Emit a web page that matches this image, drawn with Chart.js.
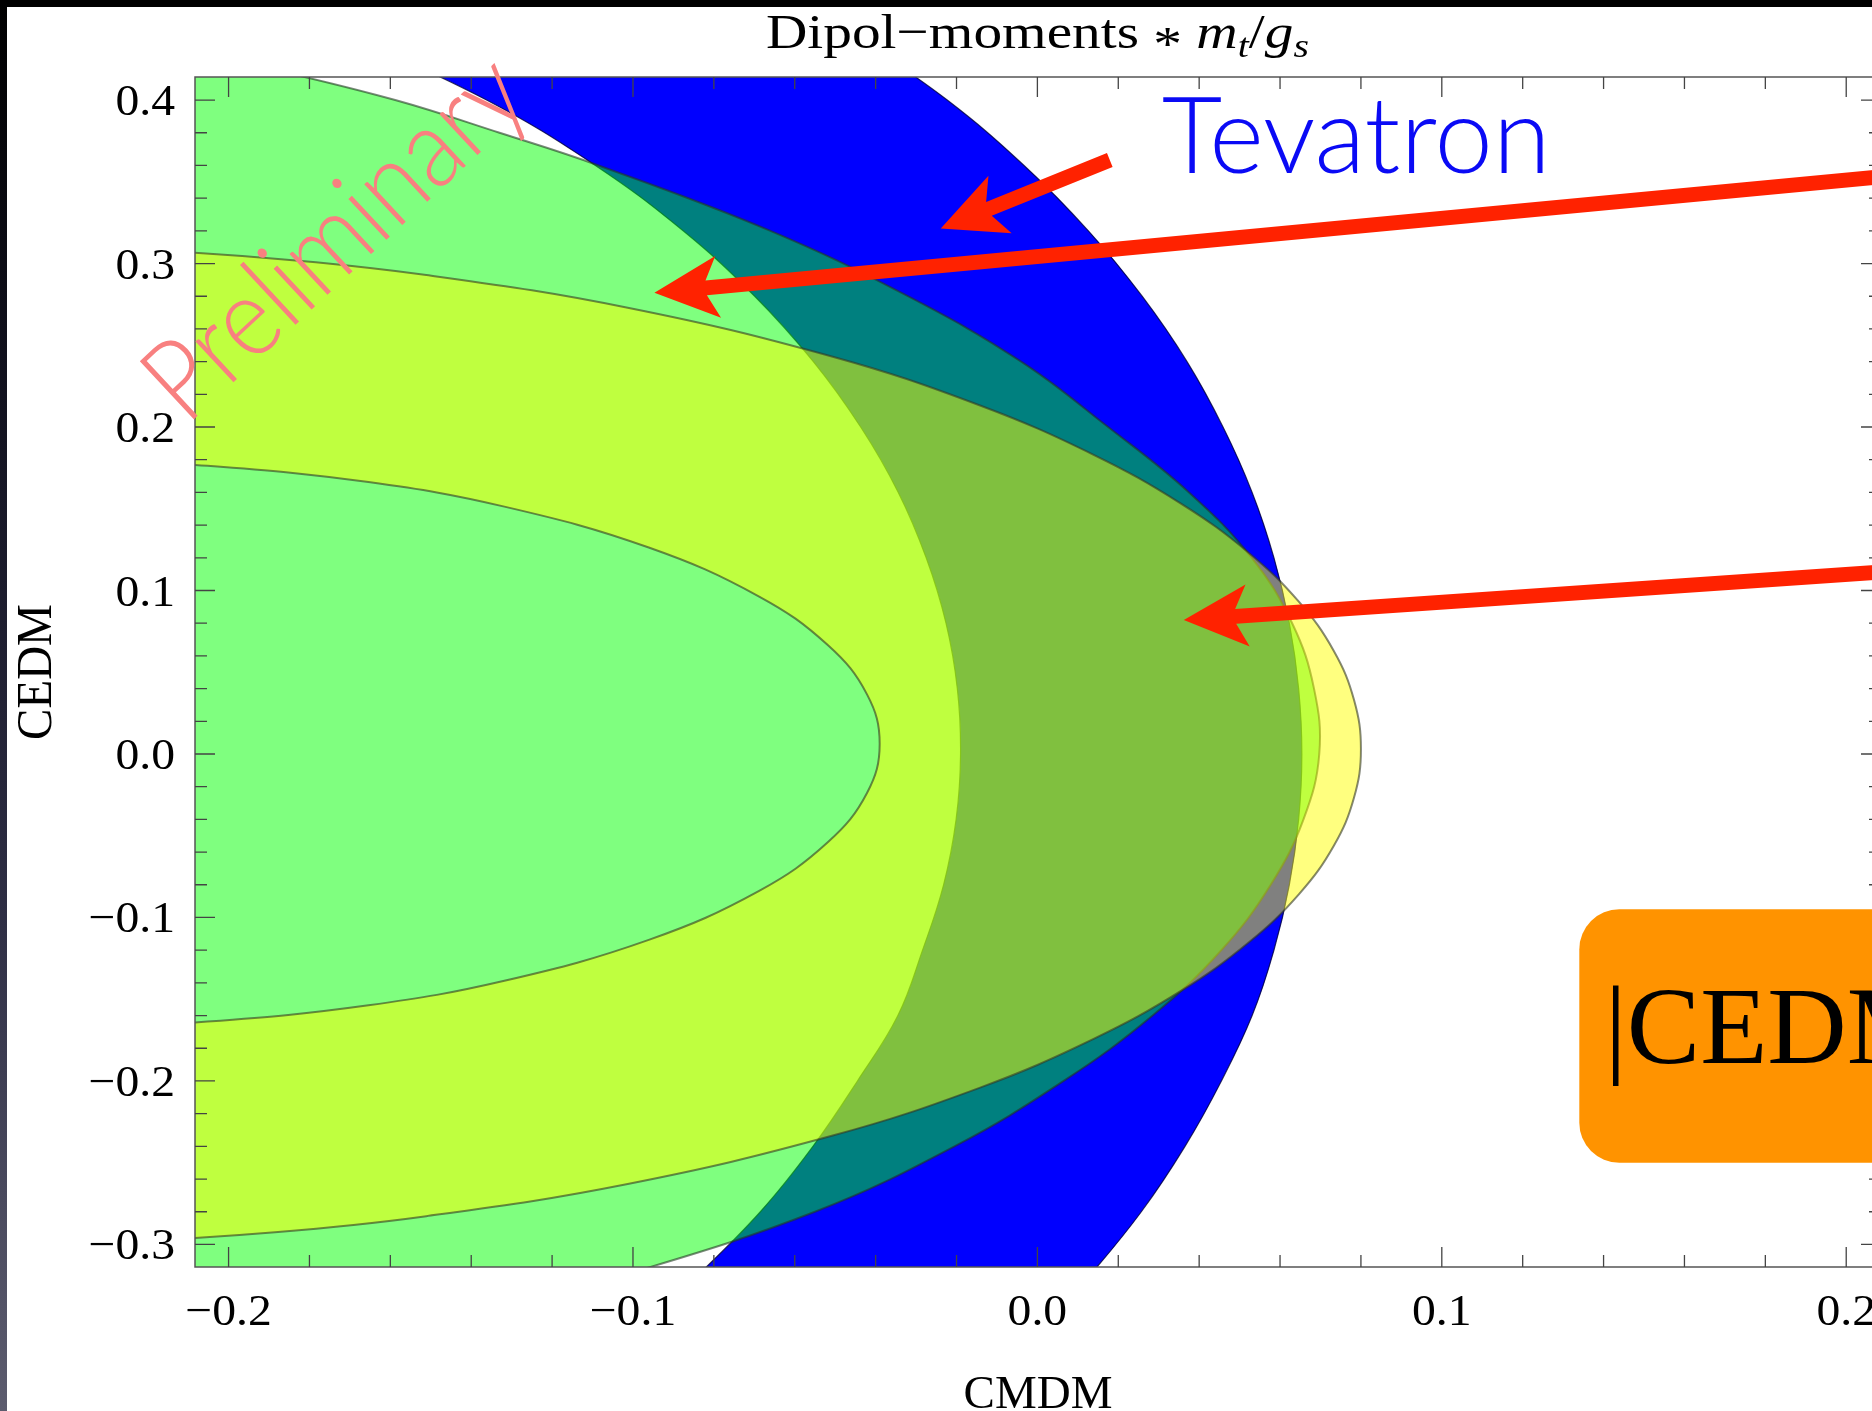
<!DOCTYPE html>
<html>
<head>
<meta charset="utf-8">
<script src="https://cdn.jsdelivr.net/npm/chart.js@4.4.1/dist/chart.umd.min.js"></script>
<style>
  html, body { margin: 0; padding: 0; background: #fff; overflow: hidden; width: 1872px; height: 1411px; }
  #wrap { position: relative; width: 1872px; height: 1411px; overflow: hidden; background: #fff; }
  #plot { position: absolute; left: 0; top: 0; }
  #topbar { position: absolute; left: 0; top: 0; width: 1872px; height: 7px; background: #000; z-index: 2; }
  #side { position: absolute; left: 0; top: 0; width: 7px; height: 1411px; z-index: 2;
          background: linear-gradient(to bottom, #000 0%, #10101c 25%, #1e1e30 45%, #2e2e44 65%, #4a4a5e 85%, #5c5c6e 100%); }
</style>
</head>
<body>
<div id="wrap">
  <canvas id="plot" width="1900" height="1411"></canvas>
  <div id="topbar"></div>
  <div id="side"></div>
</div>
<script>
// Axis ranges (CMDM horizontally, CEDM vertically)
const cmdmRange = [-0.2083, 0.2086];
const cedmRange = [-0.3138, 0.4141];

// Tick labels
const cmdmTicks = [-0.2, -0.1, 0.0, 0.1, 0.2];
const cmdmTickLabels = ['\u22120.2', '\u22120.1', '0.0', '0.1', '0.2'];
const cedmTicks = [-0.3, -0.2, -0.1, 0.0, 0.1, 0.2, 0.3, 0.4];
const cedmTickLabels = ['\u22120.3', '\u22120.2', '\u22120.1', '0.0', '0.1', '0.2', '0.3', '0.4'];

// Tevatron band: outer edge (top to bottom) and inner edge (bottom to top), [CMDM, CEDM]
const tevatronOuter = [
  [-0.0454, 0.44], [-0.0223, 0.40], [-0.0033, 0.36], [0.0126, 0.32], [0.0259, 0.28],
  [0.0370, 0.24], [0.0459, 0.20], [0.0531, 0.16], [0.0585, 0.12], [0.0623, 0.08],
  [0.0646, 0.04], [0.0654, 0.00], [0.0646, -0.04], [0.0623, -0.08], [0.0585, -0.12],
  [0.0531, -0.16], [0.0455, -0.20], [0.0365, -0.24], [0.0257, -0.28], [0.0126, -0.32],
  [0.0050, -0.34]
];
const tevatronInner = [
  [-0.094, -0.34], [-0.0845, -0.32], [-0.0685, -0.28], [-0.0555, -0.24], [-0.0445, -0.20],
  [-0.0345, -0.16], [-0.0284, -0.12], [-0.0232, -0.08], [-0.0201, -0.04], [-0.0190, 0.00],
  [-0.0198, 0.04], [-0.0226, 0.08], [-0.0275, 0.12], [-0.0344, 0.16], [-0.0437, 0.20],
  [-0.0554, 0.24], [-0.0699, 0.28], [-0.0876, 0.32], [-0.1093, 0.36], [-0.1362, 0.40],
  [-0.1706, 0.44]
];

// Green region boundary (top to bottom), closed far to the left
const greenEdge = [
  [-0.2738, 0.46], [-0.2291, 0.44], [-0.1914, 0.42], [-0.1588, 0.40], [-0.1330, 0.38],
  [-0.1085, 0.36], [-0.0660, 0.32], [-0.0320, 0.28], [-0.0040, 0.24], [0.0175, 0.20],
  [0.0375, 0.16], [0.0530, 0.12], [0.0630, 0.08], [0.0684, 0.04], [0.0697, 0.00],
  [0.0658, -0.04], [0.0577, -0.08], [0.0455, -0.12], [0.0285, -0.16], [0.0065, -0.20],
  [-0.0205, -0.24], [-0.0550, -0.28], [-0.1040, -0.32], [-0.1350, -0.34],
  [-0.40, -0.44], [-0.40, 0.52]
];

// Yellow ring: outer edge (upper left, round the tip, lower left) and inner edge (back again)
const yellowOuter = [
  [-0.310, 0.3100], [-0.270, 0.3120], [-0.235, 0.3102], [-0.1885, 0.3030], [-0.1511, 0.2930],
  [-0.1013, 0.2730], [-0.0506, 0.2430], [-0.0140, 0.2130], [0.0139, 0.1830], [0.0356, 0.1530],
  [0.0523, 0.1230], [0.0647, 0.0930], [0.0733, 0.0630], [0.0783, 0.0330], [0.0800, 0.0030],
  [0.0783, -0.0266], [0.0733, -0.0561], [0.0647, -0.0857], [0.0523, -0.1152], [0.0356, -0.1448],
  [0.0139, -0.1743], [-0.0140, -0.2039], [-0.0506, -0.2334], [-0.1013, -0.2630], [-0.1511, -0.2827],
  [-0.1885, -0.2925], [-0.235, -0.2996], [-0.270, -0.3010], [-0.310, -0.2998]
];
const yellowInner = [
  [-0.310, -0.1571], [-0.270, -0.1652], [-0.235, -0.1666], [-0.2052, -0.1637], [-0.1654, -0.1537],
  [-0.1318, -0.1387], [-0.0961, -0.1137], [-0.0688, -0.0837], [-0.0517, -0.0537], [-0.0421, -0.0237],
  [-0.0390, 0.0063], [-0.0421, 0.0363], [-0.0517, 0.0663], [-0.0688, 0.0963], [-0.0961, 0.1263],
  [-0.1318, 0.1513], [-0.1654, 0.1663], [-0.2052, 0.1763], [-0.235, 0.1792], [-0.270, 0.1778],
  [-0.310, 0.1697]
];

// Slide annotations, placed in CMDM/CEDM units
const arrowTails = [[0.0179, 0.3633], [0.23, 0.3581], [0.23, 0.1149]];
const arrowTips  = [[-0.0239, 0.3215], [-0.0947, 0.2821], [0.0362, 0.0820]];
const tevatronLabel = { text: 'Tevatron', x: 0.0310, y: 0.3552 };
const watermark = { text: 'Preliminary', x: -0.1675, y: 0.2995 };
const boxCorners = [[0.134, -0.095], [0.226, -0.250]];
const boxLabel = { text: '|CEDM|', x: 0.1403, y: -0.189 };

const toXY = arr => arr.map(p => ({ x: p[0], y: p[1] }));

const tevatronBand = toXY(tevatronOuter.concat(tevatronInner));
const greenRegion = toXY(greenEdge);
const yellowRing = toXY(yellowOuter.concat(yellowInner));

const SERIF = '"Liberation Serif", "Times New Roman", serif';
const SANS_LIGHT = 'Lato, "Open Sans", sans-serif';

function wideText(ctx, str, X, Y, sx, align) {
  ctx.save();
  ctx.translate(X, Y);
  ctx.scale(sx, 1);
  ctx.textAlign = align;
  ctx.fillText(str, 0, 0);
  ctx.restore();
}

function drawArrow(ctx, x0, y0, x1, y1) {
  const shaft = 15, headLen = 64, headHalf = 31, notch = 12;
  const len = Math.hypot(x1 - x0, y1 - y0);
  const ux = (x1 - x0) / len, uy = (y1 - y0) / len;
  const nx = -uy, ny = ux;
  const bx = x1 - ux * headLen, by = y1 - uy * headLen;
  const kx = x1 - ux * (headLen - notch), ky = y1 - uy * (headLen - notch);
  ctx.beginPath();
  ctx.moveTo(x0 + nx * shaft / 2, y0 + ny * shaft / 2);
  ctx.lineTo(kx + nx * shaft / 2, ky + ny * shaft / 2);
  ctx.lineTo(bx + nx * headHalf, by + ny * headHalf);
  ctx.lineTo(x1, y1);
  ctx.lineTo(bx - nx * headHalf, by - ny * headHalf);
  ctx.lineTo(kx - nx * shaft / 2, ky - ny * shaft / 2);
  ctx.lineTo(x0 - nx * shaft / 2, y0 - ny * shaft / 2);
  ctx.closePath();
  ctx.fill();
}

const framePlugin = {
  id: 'frameAndNotes',
  afterDatasetsDraw(chart) {
    const { ctx, chartArea: a, scales: { x, y } } = chart;
    const px = v => x.getPixelForValue(v);
    const py = v => y.getPixelForValue(v);
    ctx.save();

    // frame
    ctx.strokeStyle = '#555';
    ctx.lineWidth = 1.5;
    ctx.strokeRect(a.left, a.top, a.right - a.left, a.bottom - a.top);

    // inward ticks on all four sides
    ctx.strokeStyle = '#444';
    ctx.lineWidth = 1.3;
    ctx.beginPath();
    for (let k = -10; k <= 10; k++) {
      const X = px(k * 0.02), L = (k % 5 === 0) ? 20 : 12;
      ctx.moveTo(X, a.bottom); ctx.lineTo(X, a.bottom - L);
      ctx.moveTo(X, a.top); ctx.lineTo(X, a.top + L);
    }
    for (let k = -15; k <= 20; k++) {
      const Y = py(k * 0.02), L = (k % 5 === 0) ? 20 : 12;
      ctx.moveTo(a.left, Y); ctx.lineTo(a.left + L, Y);
      ctx.moveTo(a.right, Y); ctx.lineTo(a.right - L, Y);
    }
    ctx.stroke();

    // tick labels
    ctx.fillStyle = '#000';
    ctx.font = '45px ' + SERIF;
    ctx.textBaseline = 'alphabetic';
    cmdmTicks.forEach((v, i) => wideText(ctx, cmdmTickLabels[i], px(v), a.bottom + 58, 1.06, 'center'));
    cedmTicks.forEach((v, i) => wideText(ctx, cedmTickLabels[i], a.left - 20, py(v) + 15, 1.06, 'right'));

    // axis titles
    ctx.font = '47px ' + SERIF;
    wideText(ctx, 'CMDM', (a.left + a.right) / 2, 1408, 1.0, 'center');
    ctx.save();
    ctx.translate(51, (a.top + a.bottom) / 2);
    ctx.rotate(-Math.PI / 2);
    ctx.scale(1, 1.06);
    ctx.textAlign = 'center';
    ctx.fillText('CEDM', 0, 0);
    ctx.restore();

    // plot title: Dipol−moments ∗ m_t/g_s
    const parts = [
      { t: 'Dipol\u2212moments ', f: '49px ' + SERIF, dy: 0 },
      { t: '*', f: '49px ' + SERIF, dy: 12 },
      { t: ' ', f: '49px ' + SERIF, dy: 0 },
      { t: 'm', f: 'italic 49px ' + SERIF, dy: 0 },
      { t: 't', f: 'italic 34px ' + SERIF, dy: 9 },
      { t: '/', f: '49px ' + SERIF, dy: 0 },
      { t: 'g', f: 'italic 49px ' + SERIF, dy: 0 },
      { t: 's', f: 'italic 34px ' + SERIF, dy: 9 }
    ];
    let total = 0;
    parts.forEach(p => { ctx.font = p.f; p.w = ctx.measureText(p.t).width; total += p.w; });
    const sxT = 543 / total;
    let cx = px(0) - 543 / 2;
    ctx.textAlign = 'left';
    parts.forEach(p => {
      ctx.font = p.f;
      ctx.save();
      ctx.translate(cx, 48 + p.dy);
      ctx.scale(sxT, 1);
      ctx.fillText(p.t, 0, 0);
      ctx.restore();
      cx += p.w * sxT;
    });

    // "Tevatron" label
    ctx.fillStyle = '#0a0af5';
    ctx.font = '300 107px ' + SANS_LIGHT;
    const mT = ctx.measureText(tevatronLabel.text);
    const inkW = mT.actualBoundingBoxLeft + mT.actualBoundingBoxRight;
    const sxV = 380 / inkW;
    wideText(ctx, tevatronLabel.text, px(tevatronLabel.x) + mT.actualBoundingBoxLeft * sxV, py(tevatronLabel.y), sxV, 'left');

    // "Preliminary" watermark
    ctx.save();
    ctx.fillStyle = '#f88080';
    ctx.font = '300 112px ' + SANS_LIGHT;
    const wP = ctx.measureText(watermark.text).width;
    ctx.translate(px(watermark.x), py(watermark.y));
    ctx.rotate(-43 * Math.PI / 180);
    ctx.scale(475 / wP, 1);
    ctx.textAlign = 'center';
    ctx.textBaseline = 'alphabetic';
    ctx.fillText(watermark.text, 0, 0);
    ctx.restore();

    // red arrows
    ctx.fillStyle = '#ff2200';
    arrowTails.forEach((t, i) => drawArrow(ctx, px(t[0]), py(t[1]), px(arrowTips[i][0]), py(arrowTips[i][1])));

    // orange box with |CEDM|
    const bx0 = px(boxCorners[0][0]), by0 = py(boxCorners[0][1]);
    const bx1 = px(boxCorners[1][0]), by1 = py(boxCorners[1][1]);
    ctx.fillStyle = '#ff9300';
    ctx.beginPath();
    ctx.roundRect(bx0, by0, bx1 - bx0, by1 - by0, 40);
    ctx.fill();
    ctx.fillStyle = '#000';
    ctx.font = '110px ' + SERIF;
    ctx.textAlign = 'left';
    ctx.fillText(boxLabel.text, px(boxLabel.x), py(boxLabel.y));

    ctx.restore();
  }
};

new Chart(document.getElementById('plot'), {
  type: 'scatter',
  data: {
    datasets: [
      { label: 'yellow', data: yellowRing, order: 1, showLine: true, fill: 'shape',
        backgroundColor: 'rgba(255,255,0,0.5)', borderColor: 'rgba(50,55,35,0.6)', borderWidth: 2 },
      { label: 'green', data: greenRegion, order: 2, showLine: true, fill: 'shape',
        backgroundColor: 'rgba(0,255,0,0.5)', borderColor: 'rgba(35,55,35,0.6)', borderWidth: 2 },
      { label: 'Tevatron', data: tevatronBand, order: 3, showLine: true, fill: 'shape',
        backgroundColor: '#0000ff', borderColor: 'rgba(0,0,60,0.8)', borderWidth: 1.2 }
    ]
  },
  options: {
    responsive: false,
    animation: false,
    devicePixelRatio: 1,
    layout: { padding: { left: 195, top: 77, right: 19, bottom: 144 } },
    elements: {
      point: { radius: 0, hoverRadius: 0 },
      line: { tension: 0.4, capBezierPoints: false }
    },
    scales: {
      x: { type: 'linear', display: false, min: cmdmRange[0], max: cmdmRange[1] },
      y: { type: 'linear', display: false, min: cedmRange[0], max: cedmRange[1] }
    },
    plugins: {
      legend: { display: false },
      tooltip: { enabled: false },
      title: { display: false }
    }
  },
  plugins: [framePlugin]
});
</script>
</body>
</html>
